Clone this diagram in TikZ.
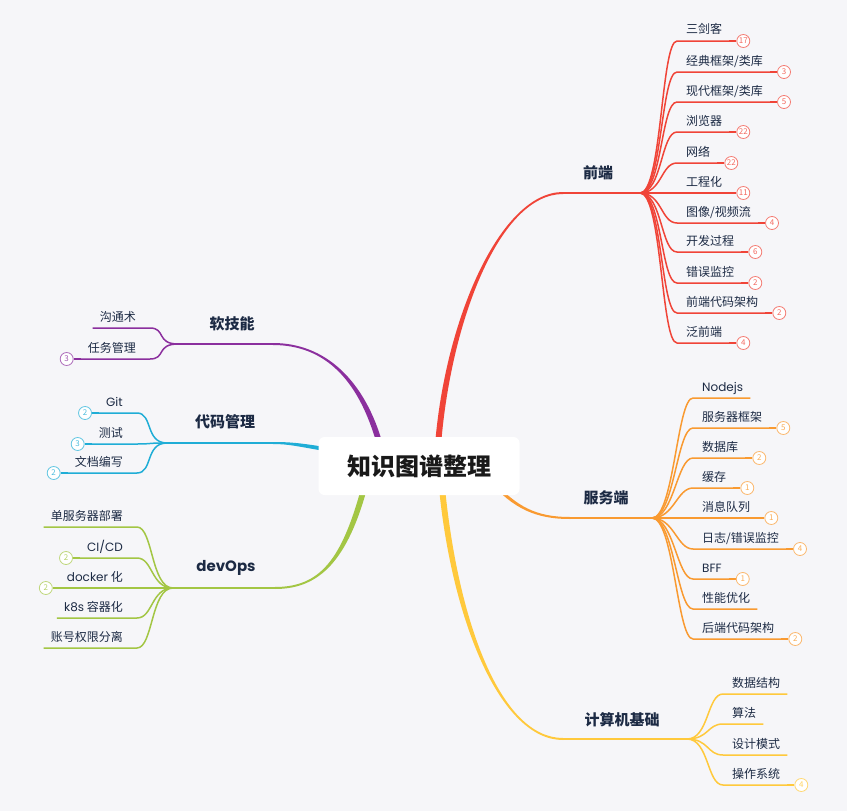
\documentclass[tikz,border=0pt]{standalone}
\usepackage{fontspec}
\setmainfont{Noto Sans CJK SC}
\newfontfamily\latfont{Poppins}
\usepackage{tikz}
\usetikzlibrary{positioning,calc}
\definecolor{mred}{HTML}{F04438}
\definecolor{morange}{HTML}{F99A31}
\definecolor{myellow}{HTML}{FFC93C}
\definecolor{mgreen}{HTML}{A3C644}
\definecolor{mcyan}{HTML}{1FADD6}
\definecolor{mpurple}{HTML}{8B2F9E}
\definecolor{mink}{HTML}{1C2A44}
\definecolor{mbg}{HTML}{F6F6F9}
\newcommand{\lat}[1]{{\latfont #1}}
\tikzset{
  rootbox/.style ={rounded corners=6pt, fill=white, minimum width=201pt, minimum height=58pt,
                   inner sep=0pt, font=\bfseries\fontsize{24}{26}\selectfont, text=black!90},
  title/.style   ={inner sep=0pt, text=mink, font=\bfseries\fontsize{15}{17}\selectfont},
  leaftext/.style={inner sep=0pt, text=mink, font=\fontsize{12}{14}\selectfont},
  leaf/.style    ={draw=#1, line width=1.5pt},
  stem/.style    ={draw=#1, line width=2pt},
  badge/.style   ={circle, draw=#1!70!white, fill=white, line width=0.8pt, minimum size=13pt,
                   inner sep=0pt, text=#1!80!white, font=\fontsize{8}{8}\selectfont},
}
% right leaf: colour, fan, start x, y, name, text, badge
\newcommand{\leafR}[7]{%
  \node[leaftext, anchor=base west] (#5) at ({#3+9},{#4-7}) {#6};
  \draw[leaf=#1] (#2) .. controls +(22,0) and +(-16,0) .. (#3,#4) -- ($(#5.base east)+(7,7)$) coordinate (#5-e);
  \ifx\relax#7\relax\else
    \draw[leaf=#1] (#5-e) -- ++(7,0) node[badge=#1, right] (#5-b) {#7};
  \fi}
% left leaf: colour, fan, end x, y, name, text, badge
\newcommand{\leafL}[7]{%
  \node[leaftext, anchor=base east] (#5) at ({#3-14},{#4-7}) {#6};
  \draw[leaf=#1] (#2) .. controls +(-22,0) and +(16,0) .. (#3,#4) -- ($(#5.base west)+(-7,7)$) coordinate (#5-e);
  \ifx\relax#7\relax\else
    \draw[leaf=#1] (#5-e) -- ++(-7,0) node[badge=#1, left] (#5-b) {#7};
  \fi}

\begin{document}
\begin{tikzpicture}[x=1pt, y=-1pt]
  \fill[mbg] (0,0) rectangle (847,811);
  \useasboundingbox (0,0) rectangle (847,811);

  % trunks
  \fill[mred] (435,445) .. controls (445,320) and (500,192) .. (563,192) -- (563,194)
              .. controls (500,194) and (451,320) .. (441,445) -- cycle;
  \fill[morange] (490,482) .. controls (513,508) and (535,519) .. (570,519) -- (570,517)
              .. controls (535,517) and (517,506) .. (494,482) -- cycle;
  \fill[myellow] (439,488) .. controls (452,620) and (500,740) .. (563,740) -- (563,738)
              .. controls (500,738) and (458,620) .. (445,488) -- cycle;
  \fill[mpurple] (383,445) .. controls (365,380) and (325,343) .. (273,343) -- (273,345)
              .. controls (325,345) and (359,380) .. (377,445) -- cycle;
  \fill[mcyan] (325,447) .. controls (300,443) and (290,442) .. (273,442) -- (273,444)
              .. controls (290,444) and (300,447) .. (325,451) -- cycle;
  \fill[mgreen] (368,485) .. controls (348,560) and (320,589) .. (275,589) -- (275,587)
              .. controls (320,587) and (342,560) .. (362,485) -- cycle;

  \node[rootbox] (root) at (419,466) {知识图谱整理};

  % fans and titles
  \coordinate (feFan) at (640,193);
  \coordinate (beFan) at (652,518);
  \coordinate (csFan) at (687,739);
  \coordinate (skFan) at (178,344);
  \coordinate (cmFan) at (167,443);
  \coordinate (doFan) at (173,588);
  \draw[stem=mred]    (563,193) -- (feFan);
  \draw[stem=morange] (570,518) -- (beFan);
  \draw[stem=myellow] (563,739) -- (csFan);
  \draw[stem=mpurple] (273,344) -- (skFan);
  \draw[stem=mcyan]   (273,443) -- (cmFan);
  \draw[stem=mgreen]  (275,588) -- (doFan);
  \node[title] (fe) at (598,173) {前端};
  \node[title] (be) at (606,498) {服务端};
  \node[title] (cs) at (622,720) {计算机基础};
  \node[title] (sk) at (232,324) {软技能};
  \node[title] (cm) at (225,422) {代码管理};
  \node[title] (do) at (226,568) {\latfont\bfseries devOps};

  % 前端
  \leafR{mred}{feFan}{677}{41}{fe1}{三剑客}{17}
  \leafR{mred}{feFan}{677}{72}{fe2}{经典框架/类库}{3}
  \leafR{mred}{feFan}{677}{102}{fe3}{现代框架/类库}{5}
  \leafR{mred}{feFan}{677}{132}{fe4}{浏览器}{22}
  \leafR{mred}{feFan}{677}{163}{fe5}{网络}{22}
  \leafR{mred}{feFan}{677}{193}{fe6}{工程化}{11}
  \leafR{mred}{feFan}{677}{223}{fe7}{图像/视频流}{4}
  \leafR{mred}{feFan}{677}{252}{fe8}{开发过程}{6}
  \leafR{mred}{feFan}{677}{283}{fe9}{错误监控}{2}
  \leafR{mred}{feFan}{677}{313}{fe10}{前端代码架构}{2}
  \leafR{mred}{feFan}{677}{343}{fe11}{泛前端}{4}

  % 服务端
  \leafR{morange}{beFan}{693}{398}{be1}{\lat{Nodejs}}{}
  \leafR{morange}{beFan}{693}{428}{be2}{服务器框架}{5}
  \leafR{morange}{beFan}{693}{458}{be3}{数据库}{2}
  \leafR{morange}{beFan}{693}{488}{be4}{缓存}{1}
  \leafR{morange}{beFan}{693}{518}{be5}{消息队列}{1}
  \leafR{morange}{beFan}{693}{549}{be6}{日志/错误监控}{4}
  \leafR{morange}{beFan}{693}{579}{be7}{\lat{BFF}}{1}
  \leafR{morange}{beFan}{693}{609}{be8}{性能优化}{}
  \leafR{morange}{beFan}{693}{639}{be9}{后端代码架构}{2}

  % 计算机基础
  \leafR{myellow}{csFan}{723}{694}{cs1}{数据结构}{}
  \leafR{myellow}{csFan}{723}{724}{cs2}{算法}{}
  \leafR{myellow}{csFan}{723}{755}{cs3}{设计模式}{}
  \leafR{myellow}{csFan}{723}{785}{cs4}{操作系统}{4}

  % 软技能
  \leafL{mpurple}{skFan}{150}{328}{sk1}{沟通术}{}
  \leafL{mpurple}{skFan}{150}{359}{sk2}{任务管理}{3}

  % 代码管理
  \leafL{mcyan}{cmFan}{137}{413}{cm1}{\lat{Git}}{2}
  \leafL{mcyan}{cmFan}{137}{444}{cm2}{测试}{3}
  \leafL{mcyan}{cmFan}{137}{473}{cm3}{文档编写}{2}

  % devOps
  \leafL{mgreen}{doFan}{137}{527}{do1}{单服务器部署}{}
  \leafL{mgreen}{doFan}{137}{558}{do2}{\lat{CI/CD}}{2}
  \leafL{mgreen}{doFan}{137}{588}{do3}{\lat{docker} 化}{2}
  \leafL{mgreen}{doFan}{137}{618}{do4}{\lat{k8s} 容器化}{}
  \leafL{mgreen}{doFan}{137}{648}{do5}{账号权限分离}{}
\end{tikzpicture}
\end{document}
